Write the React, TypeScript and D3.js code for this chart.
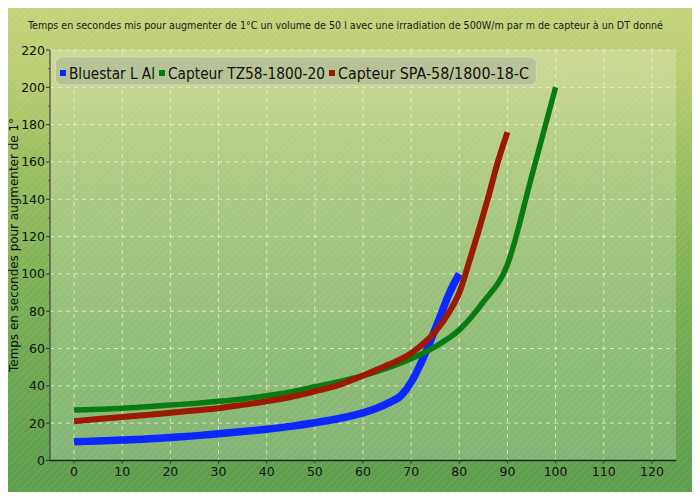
import React from 'react';
import * as d3 from 'd3';

const title = 'Temps en secondes mis pour augmenter de 1°C un volume de 50 l avec une irradiation de 500W/m  par m  de capteur à un DT donné';
const yTitle = 'Temps en secondes pour augmenter de 1°';

const xTicks = [0, 10, 20, 30, 40, 50, 60, 70, 80, 90, 100, 110, 120];
const yTicks = [0, 20, 40, 60, 80, 100, 120, 140, 160, 180, 200, 220];
const yMinor = [10, 30, 50, 70, 90, 110, 130, 150, 170, 190, 210];

const blueX = [0, 5, 10, 15, 20, 25, 30, 35, 40, 45, 50, 55, 60, 65, 68, 70, 72, 74, 76, 78, 80];
const blueY = [10, 10.5, 11, 11.5, 12.3, 13.2, 14.3, 15.5, 16.8, 18.3, 20.2, 22.5, 25.5, 30.5, 35, 42, 52, 64, 77, 90, 100];

const greenX = [0, 5, 10, 15, 20, 25, 30, 35, 40, 45, 50, 55, 60, 65, 70, 75, 80, 85, 90, 95, 100];
const greenY = [27, 27.5, 28, 28.8, 29.7, 30.6, 31.7, 33, 34.7, 36.8, 39.5, 42.3, 45.5, 49.5, 54.5, 61, 70, 85, 105, 152, 200];

const redX = [0, 5, 10, 15, 20, 25, 30, 35, 40, 45, 50, 55, 60, 65, 70, 75, 78, 80, 82, 84, 86, 88, 90];
const redY = [21, 22.2, 23.3, 24.4, 25.6, 26.8, 28, 29.8, 31.7, 34, 37, 40.5, 45.5, 51, 57.5, 69, 80, 90, 106, 123, 141, 160, 176];

const series = [
  { name: 'Bluestar L Al', xs: blueX, ys: blueY, color: '#0a28ff', width: 7.5, len: 86 },
  { name: 'Capteur TZ58-1800-20', xs: greenX, ys: greenY, color: '#087c10', width: 5.5, len: 157 },
  { name: 'Capteur SPA-58/1800-18-C', xs: redX, ys: redY, color: '#9c1a02', width: 6, len: 191 },
];

const W = 700;
const H = 500;
const plot = { left: 50, right: 676, top: 50, bottom: 460.5 };

export default function App() {
  const x = d3.scaleLinear().domain([-5, 125]).range([plot.left, plot.right]);
  const y = d3.scaleLinear().domain([0, 220]).range([plot.bottom, plot.top]);

  const line = d3
    .line<[number, number]>()
    .x(d => x(d[0]))
    .y(d => y(d[1]))
    .curve(d3.curveMonotoneX);

  // legend layout
  let lx = 60;
  const legendItems = series.map(s => {
    const item = { ...s, sx: lx, tx: lx + 9 };
    lx = lx + 9 + s.len + 4;
    return item;
  });

  const font = '"DejaVu Sans", sans-serif';

  return (
    <svg width={W} height={H} style={{ display: 'block', margin: '-8px' }}>
      <defs>
        <linearGradient id="bg" x1="0" y1="0" x2="0" y2="1">
          <stop offset="0" stopColor="#c6d47c" />
          <stop offset="0.16" stopColor="#b8cc70" />
          <stop offset="0.3" stopColor="#9fc062" />
          <stop offset="0.5" stopColor="#86b458" />
          <stop offset="0.7" stopColor="#70aa52" />
          <stop offset="0.88" stopColor="#62a24e" />
          <stop offset="1" stopColor="#5a9d4b" />
        </linearGradient>
        <pattern id="hatch" width="5" height="5" patternUnits="userSpaceOnUse" patternTransform="rotate(45)">
          <line x1="0" y1="0" x2="0" y2="5" stroke="#ffffff" strokeOpacity="0.12" strokeWidth="1.5" />
        </pattern>
      </defs>

      <rect x={0} y={0} width={W} height={H} fill="url(#bg)" />
      <rect x={0} y={0} width={W} height={H} fill="url(#hatch)" />

      <rect
        x={plot.left}
        y={plot.top}
        width={plot.right - plot.left}
        height={plot.bottom - plot.top}
        fill="#ffffff"
        fillOpacity={0.22}
      />

      <text
        x={28}
        y={29}
        fontFamily='"DejaVu Sans Condensed", "DejaVu Sans", sans-serif'
        fontSize={10.5}
        fill="#1a1a1a"
        textLength={635}
        lengthAdjust="spacingAndGlyphs"
      >
        {title}
      </text>

      {/* grid */}
      {yTicks.map(t => (
        <line
          key={'gy' + t}
          x1={plot.left}
          x2={plot.right}
          y1={y(t)}
          y2={y(t)}
          stroke="#f4f4e8"
          strokeOpacity={0.75}
          strokeDasharray="4 4"
        />
      ))}
      {xTicks.map(t => (
        <line
          key={'gx' + t}
          x1={x(t)}
          x2={x(t)}
          y1={plot.top}
          y2={plot.bottom}
          stroke="#f4f4e8"
          strokeOpacity={0.75}
          strokeDasharray="4 4"
        />
      ))}

      {/* axes */}
      <line x1={plot.left} x2={plot.left} y1={plot.top} y2={plot.bottom} stroke="#333" />
      <line x1={plot.left} x2={plot.right} y1={plot.bottom} y2={plot.bottom} stroke="#222" strokeWidth={1.5} />
      {yTicks.map(t => (
        <g key={'yt' + t}>
          <line x1={plot.left - 4} x2={plot.left} y1={y(t)} y2={y(t)} stroke="#333" />
          <text x={plot.left - 5} y={y(t) + 4.5} textAnchor="end" fontFamily={font} fontSize={12.5} fill="#111">
            {t}
          </text>
        </g>
      ))}
      {yMinor.map(t => (
        <line key={'ym' + t} x1={plot.left - 2} x2={plot.left} y1={y(t)} y2={y(t)} stroke="#c0392b" />
      ))}
      {xTicks.map(t => (
        <g key={'xt' + t}>
          <line x1={x(t)} x2={x(t)} y1={plot.bottom} y2={plot.bottom + 3} stroke="#333" />
          <text x={x(t)} y={plot.bottom + 15} textAnchor="middle" fontFamily={font} fontSize={12.5} fill="#111">
            {t}
          </text>
        </g>
      ))}

      <text
        transform={`translate(18, 245) rotate(-90)`}
        textAnchor="middle"
        fontFamily={font}
        fontSize={12.5}
        fill="#111"
        textLength={254}
        lengthAdjust="spacingAndGlyphs"
      >
        {yTitle}
      </text>

      {/* series */}
      {series.map(s => (
        <path
          key={s.name}
          d={line(s.xs.map((v, i) => [v, s.ys[i]] as [number, number])) || ''}
          fill="none"
          stroke={s.color}
          strokeWidth={s.width}
          strokeLinejoin="round"
        />
      ))}

      {/* legend */}
      <rect x={55.5} y={57} width={481} height={28} rx={6} fill="#b4bf98" fillOpacity={0.85} stroke="#d4dcb6" strokeWidth={1.2} />
      {legendItems.map(s => (
        <g key={'lg' + s.name}>
          <rect x={s.sx} y={70} width={6} height={6} fill={s.color} />
          <text
            x={s.tx}
            y={78.5}
            fontFamily={font}
            fontSize={15}
            fill="#111"
            textLength={s.len}
            lengthAdjust="spacingAndGlyphs"
          >
            {s.name}
          </text>
        </g>
      ))}

      <rect x={0.5} y={0.5} width={W - 1} height={H - 1} fill="none" stroke="#111" strokeWidth={2} />
    </svg>
  );
}
